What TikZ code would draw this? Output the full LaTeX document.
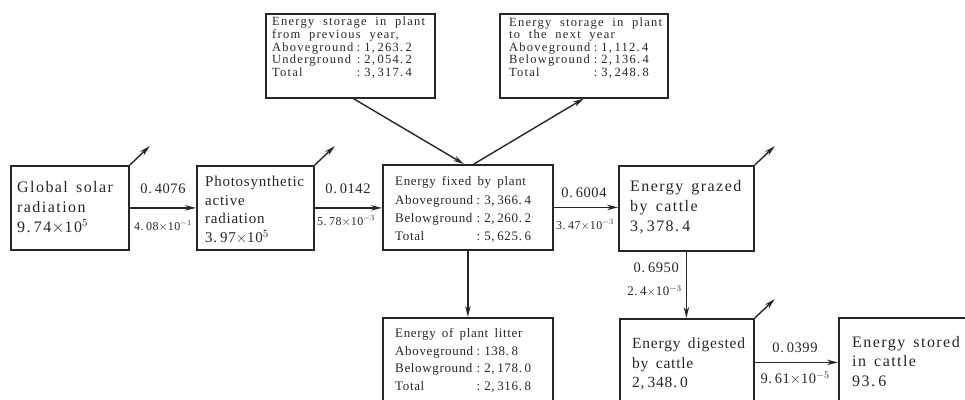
\documentclass[tikz,border=0pt]{standalone}
\usepackage{fontspec}
\setmainfont{Liberation Serif}
\newfontfamily\fW{Liberation Serif}[LetterSpace=9,WordSpace=1.5]
\newfontfamily\fN{Liberation Serif}[LetterSpace=5,WordSpace=1.6]
\newfontfamily\fT{Liberation Serif}[LetterSpace=10,WordSpace=2]
\newfontfamily\fL{Liberation Serif}[LetterSpace=4,WordSpace=0.6]
\usetikzlibrary{arrows.meta}
\newcommand\cln{\hspace{3.5pt}:\hspace{4pt}}
\newcommand\g{\hspace{0.2em}}
\definecolor{ink}{gray}{0.15}
\begin{document}
\begin{tikzpicture}[x=1pt,y=-1pt,
  frame/.style={draw=ink,line width=1.8pt,inner sep=0pt,anchor=north west},
  txt/.style={inner sep=0pt,anchor=west,align=left,text=ink},
  lab/.style={inner sep=0pt,text=ink},
  arr/.style={draw=ink,line width=1.6pt,-{Stealth[length=11pt,width=5.5pt]}},
  thin/.style={draw=ink,line width=1.4pt,-{Stealth[length=11pt,width=5.5pt]}}]
\useasboundingbox (0,0) rectangle (965,399);
\clip (0,0) rectangle (965,399);
% frames
\node[frame,minimum width=118pt,minimum height=84pt] (b1) at (10,165) {};
\node[frame,minimum width=117pt,minimum height=84pt] (b2) at (196,165) {};
\node[frame,minimum width=170pt,minimum height=85pt] (fix) at (382,164) {};
\node[frame,minimum width=135pt,minimum height=85pt] (gra) at (618,165) {};
\node[frame,minimum width=169pt,minimum height=84pt,line width=1.5pt] (tl) at (265,13) {};
\node[frame,minimum width=168pt,minimum height=84pt,line width=1.5pt] (tr) at (499,13) {};
\node[frame,minimum width=170pt,minimum height=86pt] (lit) at (382,317) {};
\node[frame,minimum width=134pt,minimum height=91pt] (dig) at (619,318) {};
\node[frame,minimum width=140pt,minimum height=89pt] (sto) at (838,317) {};
% texts
\node[txt,font=\fW\fontsize{16}{20}\selectfont] (t1) at (17,208) {Global solar\\radiation\\9.\g74$\times$10$^5$};
\node[txt,font=\fN\fontsize{15}{18.5}\selectfont] (t2) at (205,210) {Photosynthetic\\active\\radiation\\3.\g97$\times$10$^5$};
\node[txt,font=\fN\fontsize{13}{18.3}\selectfont] (t3) at (395,209.5) {\begin{tabular}{@{}l@{\cln}l@{}}\multicolumn{2}{@{}l@{}}{Energy fixed by plant}\\ Aboveground & 3,\g366.\g4\\ Belowground & 2,\g260.\g2\\ Total & 5,\g625.\g6\end{tabular}};
\node[txt,font=\fW\fontsize{16}{20}\selectfont] (t4) at (630,207) {Energy grazed\\by cattle\\3,\g378.\g4};
\node[txt,font=\fT\fontsize{12.5}{12.5}\selectfont] (t5) at (272,48.5) {\begin{tabular}{@{}l@{\cln}l@{}}\multicolumn{2}{@{}l@{}}{Energy storage in plant}\\ \multicolumn{2}{@{}l@{}}{from previous year,}\\ Aboveground & 1,\g263.\g2\\ Underground & 2,\g054.\g2\\ Total & 3,\g317.\g4\end{tabular}};
\node[txt,font=\fT\fontsize{12.5}{12.5}\selectfont] (t6) at (509,48.5) {\begin{tabular}{@{}l@{\cln}l@{}}\multicolumn{2}{@{}l@{}}{Energy storage in plant}\\ \multicolumn{2}{@{}l@{}}{to the next year}\\ Aboveground & 1,\g112.\g4\\ Belowground & 2,\g136.\g4\\ Total & 3,\g248.\g8\end{tabular}};
\node[txt,font=\fN\fontsize{13}{17.5}\selectfont] (t7) at (395,360.5) {\begin{tabular}{@{}l@{\cln}l@{}}\multicolumn{2}{@{}l@{}}{Energy of plant litter}\\ Aboveground & 138.\g8\\ Belowground & 2,\g178.\g0\\ Total & 2,\g316.\g8\end{tabular}};
\node[txt,font=\fN\fontsize{15.5}{19.5}\selectfont] (t8) at (632,364) {Energy digested\\by cattle\\2,\g348.\g0};
\node[txt,font=\fW\fontsize{16}{19.5}\selectfont] (t9) at (852,361.5) {Energy stored\\in cattle\\93.\g6};
% arrow labels
\node[lab,font=\fL\fontsize{14.5}{16}\selectfont] (l1a) at (163,189) {0.\g4076};
\node[lab,font=\fL\fontsize{12}{14}\selectfont] (l1b) at (163,226) {4.\g08$\times$10$^{-1}$};
\node[lab,font=\fL\fontsize{14.5}{16}\selectfont] (l2a) at (348,189) {0.\g0142};
\node[lab,font=\fL\fontsize{12}{14}\selectfont] (l2b) at (346,221) {5.\g78$\times$10$^{-3}$};
\node[lab,font=\fL\fontsize{14.5}{16}\selectfont] (l3a) at (584,193) {0.\g6004};
\node[lab,font=\fL\fontsize{12}{14}\selectfont] (l3b) at (585,225) {3.\g47$\times$10$^{-3}$};
\node[lab,font=\fL\fontsize{14.5}{16}\selectfont,anchor=east] (l4a) at (679,268) {0.\g6950};
\node[lab,font=\fL\fontsize{13}{15}\selectfont,anchor=east] (l4b) at (682,291) {2.\g4$\times$10$^{-3}$};
\node[lab,font=\fL\fontsize{14.5}{16}\selectfont] (l5a) at (795,348) {0.\g0399};
\node[lab,font=\fL\fontsize{14.5}{16}\selectfont] (l5b) at (795,378) {9.\g61$\times$10$^{-5}$};
% connectors
\draw[arr] (b1.east) -- (b1.east -| b2.west);
\draw[arr] (b2.east) -- (b2.east -| fix.west);
\draw[arr] (fix.east) -- (fix.east -| gra.west);
\draw[arr] (fix.south) -- (lit.north);
\draw[arr] (gra.south) -- (gra.south |- dig.north);
\draw[arr] ([yshift=2pt]dig.east) -- ([yshift=2pt]dig.east -| sto.west);
\draw[thin] ([xshift=3pt]tl.south) -- ([xshift=-4pt]fix.north);
\draw[thin] ([xshift=6pt]fix.north) -- (tr.south);
\draw[thin] (b1.north east) -- ++(20,-19);
\draw[thin] (b2.north east) -- ++(20,-19);
\draw[thin] (gra.north east) -- ++(20,-19);
\draw[thin] (dig.north east) -- ++(20,-19);
\end{tikzpicture}
\end{document}
